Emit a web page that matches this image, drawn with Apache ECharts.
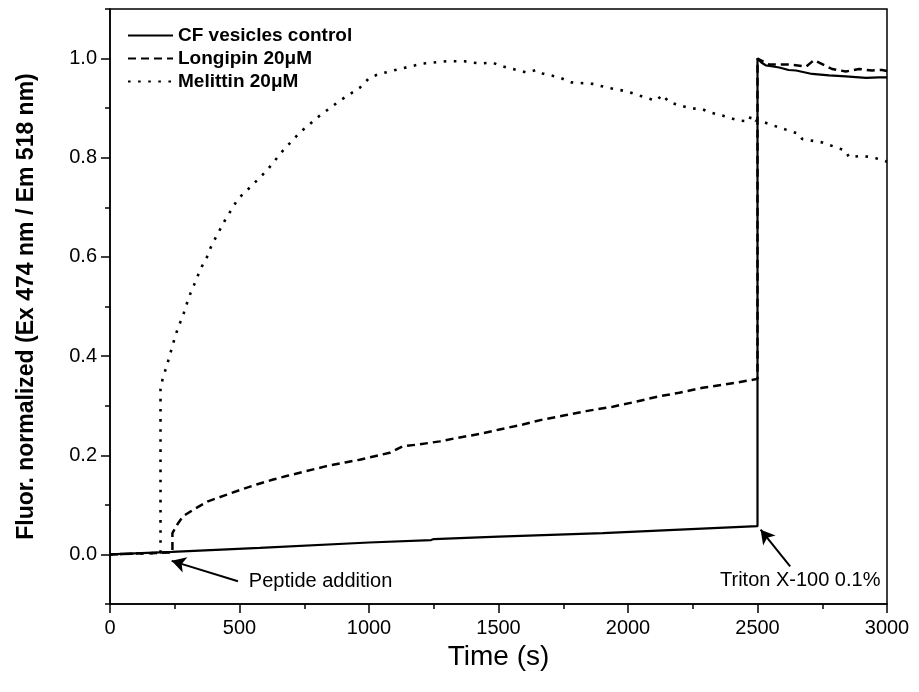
<!DOCTYPE html>
<html>
<head>
<meta charset="utf-8">
<script src="https://cdn.jsdelivr.net/npm/echarts@6/dist/echarts.min.js"></script>
<style>
html,body{margin:0;padding:0;background:#fff;}
#c{width:919px;height:692px;}
</style>
</head>
<body>
<div id="c"></div>
<script>
// ---- data (time in s, normalized fluorescence) ----
var seriesNames = ['CF vesicles control', 'Longipin 20\u03bcM', 'Melittin 20\u03bcM'];

var controlT = [0, 240, 578, 1000, 1240, 1250, 1500, 1902, 2200, 2500, 2500, 2515, 2533, 2560, 2584, 2620, 2649, 2711, 2776, 2841, 2919, 2969, 3000];
var controlV = [0, 0.005, 0.013, 0.024, 0.029, 0.031, 0.036, 0.043, 0.050, 0.057, 1.0, 0.992, 0.986, 0.984, 0.982, 0.977, 0.976, 0.969, 0.966, 0.964, 0.961, 0.962, 0.962];

var longipinT = [0, 241, 241, 263, 282, 328, 378, 443, 508, 566, 630, 681, 758, 835, 913, 964, 1022, 1080, 1131, 1195, 1273, 1350, 1427, 1504, 1594, 1671, 1761, 1838, 1941, 2031, 2121, 2198, 2288, 2378, 2468, 2500, 2500, 2545, 2622, 2688, 2718, 2738, 2788, 2841, 2892, 2942, 2981, 3000];
var longipinV = [0, 0.004, 0.043, 0.063, 0.077, 0.092, 0.107, 0.119, 0.131, 0.141, 0.151, 0.158, 0.168, 0.178, 0.186, 0.191, 0.198, 0.205, 0.218, 0.222, 0.228, 0.236, 0.243, 0.252, 0.262, 0.272, 0.281, 0.289, 0.298, 0.308, 0.319, 0.326, 0.336, 0.343, 0.351, 0.354, 1.0, 0.988, 0.988, 0.984, 0.997, 0.992, 0.979, 0.974, 0.979, 0.976, 0.977, 0.975];

var melittinT = [0, 195, 195, 204, 219, 231, 243, 257, 272, 285, 300, 311, 324, 339, 354, 373, 388, 405, 443, 494, 540, 605, 667, 733, 810, 887, 964, 1003, 1041, 1118, 1207, 1299, 1369, 1427, 1477, 1504, 1608, 1646, 1670, 1735, 1781, 1863, 1916, 1994, 2071, 2109, 2133, 2159, 2237, 2287, 2314, 2364, 2429, 2468, 2474, 2493, 2506, 2584, 2661, 2672, 2749, 2841, 2853, 2904, 2957, 3000];
var melittinV = [0, 0.003, 0.333, 0.356, 0.38, 0.402, 0.424, 0.448, 0.469, 0.487, 0.511, 0.527, 0.543, 0.562, 0.58, 0.598, 0.618, 0.636, 0.673, 0.717, 0.74, 0.774, 0.814, 0.851, 0.885, 0.915, 0.941, 0.962, 0.969, 0.979, 0.99, 0.9945, 0.9945, 0.99, 0.992, 0.986, 0.972, 0.977, 0.97, 0.962, 0.952, 0.949, 0.942, 0.934, 0.921, 0.915, 0.927, 0.912, 0.9, 0.898, 0.892, 0.885, 0.875, 0.873, 0.885, 0.875, 0.875, 0.861, 0.848, 0.838, 0.831, 0.814, 0.801, 0.804, 0.799, 0.792];

var yLabelTicks = [0, 0.2, 0.4, 0.6, 0.8, 1.0];
var yMinorTicks = [-0.1, 0.1, 0.3, 0.5, 0.7, 0.9, 1.1];

// annotations: [text, textAnchorX, textAnchorY, arrowTailX, arrowTailY, arrowHeadX, arrowHeadY]
var annPeptide = ['Peptide addition', 536, -0.055, 494, -0.054, 238, -0.013];
var annTriton = ['Triton X-100 0.1%', 2665, -0.052, 2626, -0.024, 2512, 0.05];

function zip(t, v) { return t.map(function (x, i) { return [x, v[i]]; }); }

var FONT = '"Liberation Sans", Arial, sans-serif';
var chart = echarts.init(document.getElementById('c'), null, { renderer: 'canvas' });

var yBase = {
  type: 'value', min: -0.1, max: 1.1,
  splitLine: { show: false }
};

chart.setOption({
  backgroundColor: '#fff',
  animation: false,
  grid: { left: 110, right: 32, top: 9, bottom: 88, show: true, borderColor: '#000', borderWidth: 1.5, backgroundColor: 'transparent' },
  legend: {
    data: seriesNames,
    orient: 'vertical',
    left: 127, top: 26, padding: 0,
    itemWidth: 45, itemHeight: 14, itemGap: 4,
    itemStyle: { opacity: 0 },
    textStyle: { fontFamily: FONT, fontSize: 19, fontWeight: 'bold', color: '#000' }
  },
  xAxis: {
    type: 'value', min: 0, max: 3000, interval: 500,
    name: 'Time (s)', nameLocation: 'middle', nameGap: 34,
    nameTextStyle: { fontFamily: FONT, fontSize: 28, color: '#000' },
    axisLine: { onZero: false, lineStyle: { color: '#000', width: 1.5 } },
    axisTick: { inside: false, length: 9, lineStyle: { color: '#000', width: 1.5 } },
    minorTick: { show: true, splitNumber: 2, length: 5, lineStyle: { color: '#000', width: 1.5 } },
    axisLabel: { fontFamily: FONT, fontSize: 20, color: '#000', margin: 14,
      formatter: function (v) { return String(v); } },
    splitLine: { show: false }
  },
  yAxis: [
    Object.assign({}, yBase, {
      name: 'Fluor. normalized (Ex 474 nm / Em 518 nm)', nameLocation: 'middle', nameGap: 72,
      nameTextStyle: { fontFamily: FONT, fontSize: 23, fontWeight: 'bold', color: '#000' },
      axisLine: { show: true, onZero: false, lineStyle: { color: '#000', width: 1.5 } },
      axisTick: { show: true, inside: false, length: 9, customValues: yLabelTicks, lineStyle: { color: '#000', width: 1.5 } },
      axisLabel: { fontFamily: FONT, fontSize: 20, color: '#000', margin: 13, customValues: yLabelTicks,
        formatter: function (v) { return v.toFixed(1); } }
    }),
    Object.assign({}, yBase, {
      position: 'left',
      axisLine: { show: false, onZero: false },
      axisTick: { show: true, inside: false, length: 5, customValues: yMinorTicks, lineStyle: { color: '#000', width: 1.5 } },
      axisLabel: { show: false }
    })
  ],
  series: [
    {
      name: seriesNames[0], type: 'line', data: zip(controlT, controlV),
      showSymbol: false, symbol: 'none', z: 3,
      lineStyle: { color: '#000', width: 2.2, type: 'solid' },
      itemStyle: { color: '#000' },
      markLine: {
        silent: true, symbol: ['none', 'arrow'], symbolSize: [12, 14],
        label: { show: false },
        lineStyle: { color: '#000', width: 2, type: 'solid' },
        data: [
          [{ coord: [annPeptide[3], annPeptide[4]] }, { coord: [annPeptide[5], annPeptide[6]] }],
          [{ coord: [annTriton[3], annTriton[4]] }, { coord: [annTriton[5], annTriton[6]] }]
        ]
      },
      markPoint: {
        silent: true, symbol: 'circle', symbolSize: 0,
        data: [
          { coord: [annPeptide[1], annPeptide[2]], label: { show: true, position: 'right', distance: 0, formatter: annPeptide[0], fontFamily: FONT, fontSize: 20, color: '#000' } },
          { coord: [annTriton[1], annTriton[2]], label: { show: true, position: 'inside', formatter: annTriton[0], fontFamily: FONT, fontSize: 20, color: '#000' } }
        ]
      }
    },
    {
      name: seriesNames[1], type: 'line', data: zip(longipinT, longipinV),
      showSymbol: false, symbol: 'none', z: 2,
      lineStyle: { color: '#000', width: 2.5, type: [8, 5] },
      itemStyle: { color: '#000' }
    },
    {
      name: seriesNames[2], type: 'line', data: zip(melittinT, melittinV),
      showSymbol: false, symbol: 'none', z: 2,
      lineStyle: { color: '#000', width: 2.6, type: [2.6, 7.5] },
      itemStyle: { color: '#000' }
    }
  ]
});
</script>
</body>
</html>
